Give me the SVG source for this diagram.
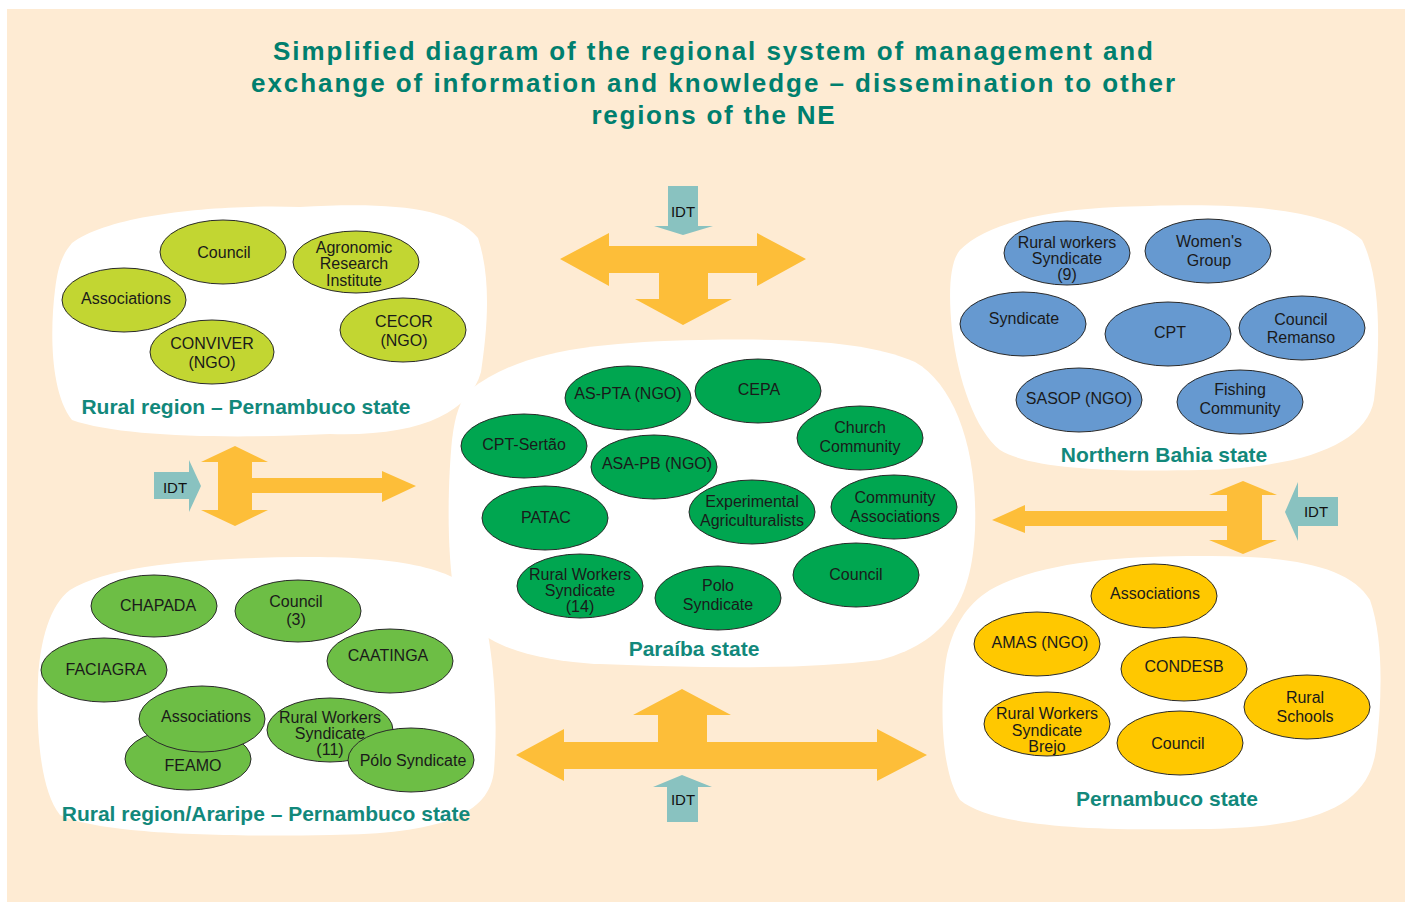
<svg xmlns="http://www.w3.org/2000/svg" width="1410" height="902" viewBox="0 0 1410 902">
  <style>
    .title { font-family: "Liberation Sans", Arial, sans-serif; font-weight: bold; font-size: 26px; fill: #007F6E; text-anchor: middle; }
    .region { font-family: "Liberation Sans", Arial, sans-serif; font-weight: bold; font-size: 21px; fill: #12887B; text-anchor: middle; }
    .lbl { font-family: "Liberation Sans", Arial, sans-serif; font-size: 16px; fill: #1a1a1a; text-anchor: middle; }
    .idt { font-family: "Liberation Sans", Arial, sans-serif; font-size: 15px; fill: #111; text-anchor: middle; }
    .blob { fill: #ffffff; }
    .node ellipse { stroke: #2a2a2a; stroke-width: 1; }
    .lime ellipse { fill: #C2D632; }
    .blue ellipse { fill: #6699D0; }
    .dgreen ellipse { fill: #00A650; }
    .mgreen ellipse { fill: #6DBE45; }
    .yellow ellipse { fill: #FFC800; }
    .flow { fill: #FDBE39; }
    .idtarrow { fill: #89C2C0; }
  </style>

  <!-- page background -->
  <rect x="7" y="9" width="1398" height="893" fill="#FEEBD3"/>

  <!-- title -->
  <g id="title">
    <text class="title" x="713" y="60" textLength="880" lengthAdjust="spacing">Simplified diagram of the regional system of management and</text>
    <text class="title" x="713" y="92" textLength="924" lengthAdjust="spacing">exchange of information and knowledge – dissemination to other</text>
    <text class="title" x="713" y="124" textLength="243" lengthAdjust="spacing">regions of the NE</text>
  </g>

  <!-- regional areas -->
  <g id="areas">
    <path class="blob" d="M72,243 C110,214 220,204 300,207 C385,202 452,206 478,238 C492,280 487,332 481,372 C470,412 420,437 330,434 C230,439 120,437 72,420 C50,392 50,330 55,290 C58,266 62,255 72,243 Z"/>
    <path class="blob" d="M960,250 C990,220 1060,207 1150,206 C1250,203 1330,210 1362,240 C1382,280 1380,350 1374,400 C1366,445 1300,468 1200,470 C1100,472 1030,468 1000,450 C975,430 958,380 952,330 C948,290 950,262 960,250 Z"/>
    <path class="blob" d="M470,390 C520,350 600,342 700,340 C800,338 870,342 915,362 C955,385 978,450 975,530 C972,590 955,640 880,660 C800,670 700,668 600,664 C520,660 470,640 455,600 C446,550 448,480 452,440 C455,415 460,400 470,390 Z"/>
    <path class="blob" d="M70,590 C110,565 200,558 300,557 C390,556 460,566 480,600 C495,650 498,720 494,770 C490,815 440,834 330,835 C220,837 100,834 60,815 C40,790 36,730 38,680 C40,640 50,605 70,590 Z"/>
    <path class="blob" d="M990,590 C1040,562 1120,556 1200,556 C1290,555 1350,566 1370,600 C1384,640 1382,700 1376,750 C1368,805 1320,828 1200,829 C1080,831 990,825 960,800 C940,770 940,700 946,660 C952,628 966,605 990,590 Z"/>
  </g>

  <!-- exchange connectors -->
  <g id="connectors">
    <!-- top: IDT into the T-shaped exchange arrow -->
    <polygon class="idtarrow" points="668,186 698,186 698,226 713,226 683,235 654,226 668,226"/>
    <text class="idt" x="683" y="217">IDT</text>
    <polygon class="flow" points="560,259 609,233 609,246 757,246 757,233 806,259 757,286 757,273 708,273 708,299 732,299 683,325 635,299 659,299 659,273 609,273 609,286"/>

    <!-- left: IDT and vertical exchange with arrow towards Paraíba -->
    <polygon class="idtarrow" points="154,472 189,472 189,460 201,486 189,512 189,499 154,499"/>
    <text class="idt" x="175" y="493">IDT</text>
    <polygon class="flow" points="235,446 268,462 252,462 252,478 382,478 382,471 416,486 382,502 382,493 252,493 252,510 268,510 235,526 201,510 218,510 218,462 201,462"/>

    <!-- right: IDT and vertical exchange with arrow towards Paraíba -->
    <polygon class="idtarrow" points="1338,497 1298,497 1298,482 1285,512 1298,541 1298,526 1338,526"/>
    <text class="idt" x="1316" y="517">IDT</text>
    <polygon class="flow" points="1243,481 1277,495 1262,495 1262,540 1277,540 1243,554 1209,540 1227,540 1227,526 1025,526 1025,533 992,520 1025,505 1025,511 1227,511 1227,495 1209,495"/>

    <!-- bottom: inverted-T exchange arrow fed by IDT -->
    <polygon class="flow" points="516,755 564,729 564,742 658,742 658,715 633,715 682,689 731,715 707,715 707,742 877,742 877,729 927,755 877,781 877,769 564,769 564,781"/>
    <polygon class="idtarrow" points="667,822 698,822 698,787 712,787 682,775 653,787 667,787"/>
    <text class="idt" x="683" y="805">IDT</text>
  </g>

  <!-- Rural region – Pernambuco state -->
  <g id="rural-pe" class="lime">
    <g id="rp-council" class="node"><ellipse cx="223" cy="252" rx="63" ry="32"/><text class="lbl" x="224" y="258">Council</text></g>
    <g id="rp-agronomic" class="node"><ellipse cx="356" cy="262" rx="63" ry="31"/><text class="lbl" x="354" y="253">Agronomic</text><text class="lbl" x="354" y="269">Research</text><text class="lbl" x="354" y="286">Institute</text></g>
    <g id="rp-associations" class="node"><ellipse cx="124" cy="300" rx="62" ry="32"/><text class="lbl" x="126" y="304">Associations</text></g>
    <g id="rp-conviver" class="node"><ellipse cx="212" cy="352" rx="62" ry="32"/><text class="lbl" x="212" y="349">CONVIVER</text><text class="lbl" x="212" y="368">(NGO)</text></g>
    <g id="rp-cecor" class="node"><ellipse cx="403" cy="330" rx="63" ry="32"/><text class="lbl" x="404" y="327">CECOR</text><text class="lbl" x="404" y="346">(NGO)</text></g>
    <text class="region" x="246" y="414">Rural region – Pernambuco state</text>
  </g>

  <!-- Northern Bahia state -->
  <g id="bahia" class="blue">
    <g id="ba-rws" class="node"><ellipse cx="1067" cy="253" rx="63" ry="32"/><text class="lbl" x="1067" y="248">Rural workers</text><text class="lbl" x="1067" y="264">Syndicate</text><text class="lbl" x="1067" y="280">(9)</text></g>
    <g id="ba-women" class="node"><ellipse cx="1208" cy="251" rx="63" ry="32"/><text class="lbl" x="1209" y="247">Women's</text><text class="lbl" x="1209" y="266">Group</text></g>
    <g id="ba-syndicate" class="node"><ellipse cx="1023" cy="324" rx="63" ry="32"/><text class="lbl" x="1024" y="324">Syndicate</text></g>
    <g id="ba-cpt" class="node"><ellipse cx="1168" cy="334" rx="63" ry="32"/><text class="lbl" x="1170" y="338">CPT</text></g>
    <g id="ba-remanso" class="node"><ellipse cx="1302" cy="328" rx="63" ry="32"/><text class="lbl" x="1301" y="325">Council</text><text class="lbl" x="1301" y="343">Remanso</text></g>
    <g id="ba-sasop" class="node"><ellipse cx="1079" cy="400" rx="63" ry="32"/><text class="lbl" x="1079" y="404">SASOP (NGO)</text></g>
    <g id="ba-fishing" class="node"><ellipse cx="1240" cy="402" rx="63" ry="32"/><text class="lbl" x="1240" y="395">Fishing</text><text class="lbl" x="1240" y="414">Community</text></g>
    <text class="region" x="1164" y="462">Northern Bahia state</text>
  </g>

  <!-- Paraíba state -->
  <g id="paraiba" class="dgreen">
    <g id="pb-aspta" class="node"><ellipse cx="628" cy="398" rx="63" ry="32"/><text class="lbl" x="628" y="399">AS-PTA (NGO)</text></g>
    <g id="pb-cepa" class="node"><ellipse cx="758" cy="391" rx="63" ry="32"/><text class="lbl" x="759" y="395">CEPA</text></g>
    <g id="pb-cpt" class="node"><ellipse cx="524" cy="446" rx="63" ry="32"/><text class="lbl" x="524" y="450">CPT-Sertão</text></g>
    <g id="pb-asapb" class="node"><ellipse cx="654" cy="467" rx="63" ry="32"/><text class="lbl" x="657" y="469">ASA-PB (NGO)</text></g>
    <g id="pb-church" class="node"><ellipse cx="860" cy="438" rx="63" ry="32"/><text class="lbl" x="860" y="433">Church</text><text class="lbl" x="860" y="452">Community</text></g>
    <g id="pb-patac" class="node"><ellipse cx="545" cy="518" rx="63" ry="32"/><text class="lbl" x="546" y="523">PATAC</text></g>
    <g id="pb-experimental" class="node"><ellipse cx="752" cy="512" rx="63" ry="32"/><text class="lbl" x="752" y="507">Experimental</text><text class="lbl" x="752" y="526">Agriculturalists</text></g>
    <g id="pb-community" class="node"><ellipse cx="894" cy="507" rx="63" ry="32"/><text class="lbl" x="895" y="503">Community</text><text class="lbl" x="895" y="522">Associations</text></g>
    <g id="pb-council" class="node"><ellipse cx="856" cy="575" rx="63" ry="32"/><text class="lbl" x="856" y="580">Council</text></g>
    <g id="pb-rws" class="node"><ellipse cx="580" cy="586" rx="63" ry="32"/><text class="lbl" x="580" y="580">Rural Workers</text><text class="lbl" x="580" y="596">Syndicate</text><text class="lbl" x="580" y="612">(14)</text></g>
    <g id="pb-polo" class="node"><ellipse cx="718" cy="598" rx="63" ry="32"/><text class="lbl" x="718" y="591">Polo</text><text class="lbl" x="718" y="610">Syndicate</text></g>
    <text class="region" x="694" y="656">Paraíba state</text>
  </g>

  <!-- Rural region/Araripe – Pernambuco state -->
  <g id="araripe" class="mgreen">
    <g id="ar-chapada" class="node"><ellipse cx="154" cy="606" rx="63" ry="31"/><text class="lbl" x="158" y="611">CHAPADA</text></g>
    <g id="ar-council" class="node"><ellipse cx="298" cy="611" rx="63" ry="31"/><text class="lbl" x="296" y="607">Council</text><text class="lbl" x="296" y="625">(3)</text></g>
    <g id="ar-faciagra" class="node"><ellipse cx="104" cy="670" rx="63" ry="32"/><text class="lbl" x="106" y="675">FACIAGRA</text></g>
    <g id="ar-caatinga" class="node"><ellipse cx="390" cy="661" rx="63" ry="32"/><text class="lbl" x="388" y="661">CAATINGA</text></g>
    <g id="ar-feamo" class="node"><ellipse cx="188" cy="759" rx="63" ry="31"/><text class="lbl" x="193" y="771">FEAMO</text></g>
    <g id="ar-associations" class="node"><ellipse cx="202" cy="719" rx="63" ry="33"/><text class="lbl" x="206" y="722">Associations</text></g>
    <g id="ar-rws" class="node"><ellipse cx="330" cy="730" rx="63" ry="32"/><text class="lbl" x="330" y="723">Rural Workers</text><text class="lbl" x="330" y="739">Syndicate</text><text class="lbl" x="330" y="755">(11)</text></g>
    <g id="ar-polo" class="node"><ellipse cx="411" cy="760" rx="63" ry="32"/><text class="lbl" x="413" y="766">Pólo Syndicate</text></g>
    <text class="region" x="266" y="821">Rural region/Araripe – Pernambuco state</text>
  </g>

  <!-- Pernambuco state -->
  <g id="pernambuco" class="yellow">
    <g id="pe-associations" class="node"><ellipse cx="1154" cy="596" rx="63" ry="32"/><text class="lbl" x="1155" y="599">Associations</text></g>
    <g id="pe-amas" class="node"><ellipse cx="1037" cy="644" rx="63" ry="32"/><text class="lbl" x="1040" y="648">AMAS (NGO)</text></g>
    <g id="pe-condesb" class="node"><ellipse cx="1184" cy="669" rx="63" ry="32"/><text class="lbl" x="1184" y="672">CONDESB</text></g>
    <g id="pe-schools" class="node"><ellipse cx="1307" cy="707" rx="63" ry="32"/><text class="lbl" x="1305" y="703">Rural</text><text class="lbl" x="1305" y="722">Schools</text></g>
    <g id="pe-rws" class="node"><ellipse cx="1047" cy="724" rx="63" ry="32"/><text class="lbl" x="1047" y="719">Rural Workers</text><text class="lbl" x="1047" y="736">Syndicate</text><text class="lbl" x="1047" y="752">Brejo</text></g>
    <g id="pe-council" class="node"><ellipse cx="1180" cy="743" rx="63" ry="32"/><text class="lbl" x="1178" y="749">Council</text></g>
    <text class="region" x="1167" y="806">Pernambuco state</text>
  </g>
</svg>
